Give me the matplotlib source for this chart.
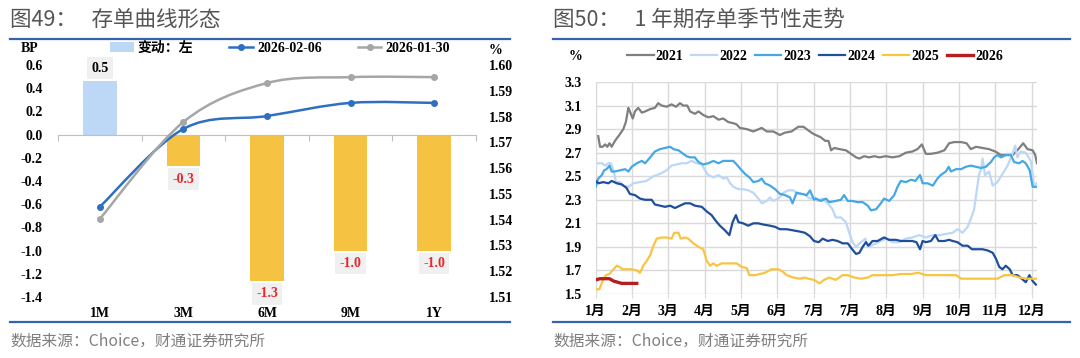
import matplotlib
matplotlib.use("Agg")
import matplotlib.pyplot as plt
import numpy as np
from matplotlib.lines import Line2D
from matplotlib.patches import Patch, PathPatch
from matplotlib.path import Path

# ---- left panel: CD curve ----
TENORS = ["1M", "3M", "6M", "9M", "1Y"]
CHANGE_BP = [0.46, -0.27, -1.26, -1.0, -1.0]
CHANGE_LABELS = ["0.5", "-0.3", "-1.3", "-1.0", "-1.0"]
CURVE_0206 = [1.5450, 1.5752, 1.5802, 1.5853, 1.5853]
CURVE_0130 = [1.5403, 1.5779, 1.5930, 1.5953, 1.5953]

# ---- right panel: 1Y CD seasonality, (month position, rate %) ----
MONTH_LABELS = ["1月", "2月", "3月", "4月", "5月", "6月", "7月", "7月",
                "8月", "9月", "10月", "11月", "12月"]

Y2021 = [(0.07, 2.84), (0.12, 2.75), (0.19, 2.75), (0.26, 2.77), (0.32, 2.75), (0.38, 2.78),
         (0.44, 2.75), (0.53, 2.80), (0.65, 2.85), (0.76, 2.90), (0.83, 2.96), (0.90, 3.08),
         (0.94, 3.05), (1.02, 2.99), (1.08, 3.05), (1.17, 3.08), (1.27, 3.04), (1.36, 3.05),
         (1.50, 3.07), (1.63, 3.08), (1.72, 3.12), (1.82, 3.10), (1.95, 3.09), (2.09, 3.11),
         (2.21, 3.09), (2.32, 3.12), (2.41, 3.10), (2.52, 3.10), (2.60, 3.05), (2.73, 3.03),
         (2.83, 3.05), (2.96, 3.02), (3.10, 3.00), (3.24, 3.01), (3.38, 2.98), (3.51, 2.99),
         (3.65, 2.96), (3.79, 2.95), (3.88, 2.94), (3.97, 2.91), (4.16, 2.90), (4.34, 2.88),
         (4.57, 2.91), (4.71, 2.88), (4.89, 2.88), (5.07, 2.85), (5.21, 2.87), (5.39, 2.88),
         (5.58, 2.92), (5.72, 2.92), (5.85, 2.89), (5.99, 2.86), (6.06, 2.85), (6.20, 2.83),
         (6.32, 2.80), (6.41, 2.80), (6.48, 2.72), (6.57, 2.74), (6.71, 2.73), (6.89, 2.72),
         (7.03, 2.69), (7.17, 2.66), (7.26, 2.65), (7.39, 2.67), (7.53, 2.66), (7.67, 2.67),
         (7.81, 2.66), (7.99, 2.67), (8.17, 2.66), (8.36, 2.67), (8.54, 2.70), (8.72, 2.71),
         (8.86, 2.73), (8.98, 2.77), (9.09, 2.69), (9.23, 2.69), (9.41, 2.70), (9.60, 2.72),
         (9.73, 2.78), (9.87, 2.79), (10.06, 2.79), (10.21, 2.78), (10.33, 2.73), (10.47, 2.75),
         (10.65, 2.74), (10.83, 2.73), (11.00, 2.71), (11.16, 2.68), (11.29, 2.68), (11.48, 2.68),
         (11.61, 2.72), (11.77, 2.78), (11.89, 2.73), (12.03, 2.72), (12.10, 2.68), (12.15, 2.61)]

Y2022 = [(0.05, 2.61), (0.17, 2.61), (0.26, 2.59), (0.35, 2.61), (0.42, 2.61), (0.49, 2.55),
         (0.56, 2.45), (0.67, 2.45), (0.76, 2.42), (0.90, 2.41), (1.04, 2.44), (1.22, 2.45),
         (1.40, 2.46), (1.59, 2.50), (1.77, 2.52), (1.95, 2.55), (2.09, 2.59), (2.23, 2.60),
         (2.37, 2.61), (2.50, 2.61), (2.64, 2.63), (2.78, 2.61), (2.92, 2.60), (3.01, 2.55),
         (3.10, 2.51), (3.24, 2.49), (3.38, 2.51), (3.51, 2.48), (3.61, 2.49), (3.70, 2.44),
         (3.79, 2.41), (3.93, 2.39), (4.06, 2.39), (4.20, 2.38), (4.34, 2.36), (4.48, 2.31),
         (4.57, 2.27), (4.71, 2.29), (4.80, 2.32), (4.89, 2.29), (5.03, 2.31), (5.17, 2.36),
         (5.30, 2.38), (5.44, 2.38), (5.58, 2.35), (5.72, 2.35), (5.90, 2.31), (6.04, 2.32),
         (6.11, 2.29), (6.25, 2.31), (6.39, 2.27), (6.52, 2.22), (6.61, 2.15), (6.75, 2.15),
         (6.89, 2.11), (6.98, 2.02), (7.07, 1.94), (7.17, 1.90), (7.26, 1.93), (7.35, 1.95),
         (7.42, 1.97), (7.49, 1.90), (7.58, 1.91), (7.72, 1.93), (7.85, 1.95), (7.99, 1.97),
         (8.17, 1.94), (8.36, 1.94), (8.54, 1.97), (8.72, 1.98), (8.91, 2.00), (9.09, 1.98),
         (9.28, 2.00), (9.46, 2.00), (9.64, 2.01), (9.83, 2.02), (9.96, 2.05), (10.10, 2.02),
         (10.24, 2.07), (10.33, 2.14), (10.42, 2.22), (10.51, 2.42), (10.56, 2.52), (10.61, 2.56),
         (10.65, 2.65), (10.72, 2.51), (10.83, 2.54), (10.93, 2.42), (11.06, 2.45), (11.20, 2.52),
         (11.34, 2.59), (11.46, 2.68), (11.55, 2.76), (11.61, 2.66), (11.70, 2.71), (11.84, 2.70),
         (11.98, 2.63), (12.07, 2.42), (12.14, 2.44)]

Y2023 = [(0.00, 2.41), (0.07, 2.48), (0.17, 2.51), (0.23, 2.55), (0.30, 2.56), (0.38, 2.59),
         (0.44, 2.54), (0.53, 2.54), (0.67, 2.55), (0.81, 2.56), (0.90, 2.54), (0.99, 2.58),
         (1.13, 2.61), (1.27, 2.63), (1.36, 2.61), (1.50, 2.66), (1.63, 2.71), (1.77, 2.73),
         (1.91, 2.74), (2.05, 2.75), (2.14, 2.73), (2.28, 2.72), (2.41, 2.69), (2.50, 2.67),
         (2.60, 2.66), (2.73, 2.66), (2.83, 2.62), (2.96, 2.60), (3.10, 2.61), (3.24, 2.63),
         (3.38, 2.61), (3.51, 2.63), (3.65, 2.63), (3.79, 2.63), (3.88, 2.60), (4.02, 2.55),
         (4.11, 2.52), (4.23, 2.49), (4.34, 2.45), (4.48, 2.46), (4.57, 2.48), (4.66, 2.44),
         (4.80, 2.42), (4.94, 2.39), (5.07, 2.35), (5.21, 2.34), (5.35, 2.32), (5.42, 2.27),
         (5.53, 2.36), (5.67, 2.35), (5.81, 2.34), (5.90, 2.38), (6.01, 2.30), (6.06, 2.31),
         (6.20, 2.29), (6.34, 2.31), (6.43, 2.28), (6.61, 2.29), (6.75, 2.30), (6.84, 2.34),
         (6.94, 2.29), (7.07, 2.29), (7.21, 2.28), (7.35, 2.28), (7.49, 2.25), (7.58, 2.21),
         (7.72, 2.22), (7.85, 2.27), (7.94, 2.31), (8.08, 2.29), (8.22, 2.34), (8.31, 2.41),
         (8.40, 2.46), (8.54, 2.45), (8.68, 2.47), (8.80, 2.46), (8.93, 2.51), (9.00, 2.44),
         (9.14, 2.44), (9.28, 2.42), (9.41, 2.48), (9.50, 2.51), (9.64, 2.54), (9.72, 2.58),
         (9.78, 2.54), (9.92, 2.56), (10.06, 2.56), (10.19, 2.58), (10.33, 2.59), (10.47, 2.58),
         (10.61, 2.57), (10.74, 2.58), (10.88, 2.62), (10.97, 2.66), (11.06, 2.68), (11.16, 2.66),
         (11.29, 2.68), (11.43, 2.68), (11.52, 2.62), (11.66, 2.61), (11.75, 2.63), (11.84, 2.61),
         (11.95, 2.55), (12.03, 2.41), (12.12, 2.41)]

Y2024 = [(0.00, 2.46), (0.07, 2.44), (0.21, 2.45), (0.35, 2.44), (0.44, 2.46), (0.58, 2.44),
         (0.72, 2.43), (0.85, 2.40), (0.94, 2.35), (1.08, 2.34), (1.22, 2.31), (1.36, 2.30),
         (1.54, 2.30), (1.63, 2.26), (1.77, 2.25), (1.91, 2.24), (2.05, 2.25), (2.18, 2.23),
         (2.32, 2.25), (2.46, 2.27), (2.60, 2.27), (2.73, 2.25), (2.92, 2.24), (3.06, 2.20),
         (3.19, 2.17), (3.31, 2.12), (3.42, 2.08), (3.56, 2.04), (3.68, 2.00), (3.77, 2.11),
         (3.86, 2.17), (3.93, 2.11), (4.06, 2.10), (4.20, 2.08), (4.34, 2.10), (4.48, 2.10),
         (4.61, 2.09), (4.80, 2.08), (4.94, 2.07), (5.07, 2.05), (5.26, 2.05), (5.44, 2.04),
         (5.62, 2.03), (5.76, 2.02), (5.90, 1.99), (6.01, 1.95), (6.14, 1.94), (6.25, 1.97),
         (6.39, 1.95), (6.52, 1.96), (6.66, 1.95), (6.80, 1.93), (6.94, 1.93), (7.06, 1.88),
         (7.17, 1.84), (7.26, 1.85), (7.35, 1.90), (7.44, 1.94), (7.51, 1.91), (7.62, 1.95),
         (7.76, 1.95), (7.94, 1.98), (8.08, 1.96), (8.27, 1.96), (8.40, 1.95), (8.54, 1.95),
         (8.72, 1.95), (8.83, 1.94), (8.93, 1.88), (9.00, 1.95), (9.09, 1.94), (9.23, 1.95),
         (9.35, 2.00), (9.44, 1.95), (9.60, 1.95), (9.73, 1.96), (9.83, 1.95), (9.96, 1.94),
         (10.10, 1.91), (10.24, 1.91), (10.36, 1.88), (10.51, 1.88), (10.65, 1.88), (10.79, 1.87),
         (10.93, 1.85), (11.02, 1.80), (11.11, 1.73), (11.20, 1.71), (11.29, 1.74), (11.40, 1.71),
         (11.48, 1.66), (11.61, 1.66), (11.73, 1.63), (11.84, 1.60), (11.94, 1.66), (12.03, 1.61),
         (12.12, 1.58)]

Y2025 = [(0.00, 1.54), (0.10, 1.54), (0.19, 1.61), (0.28, 1.66), (0.38, 1.67), (0.49, 1.71),
         (0.58, 1.74), (0.65, 1.73), (0.74, 1.71), (0.85, 1.71), (0.99, 1.71), (1.13, 1.70),
         (1.22, 1.68), (1.31, 1.74), (1.40, 1.78), (1.50, 1.83), (1.59, 1.91), (1.68, 1.97),
         (1.82, 1.98), (1.95, 1.98), (2.09, 1.97), (2.16, 2.02), (2.28, 2.02), (2.34, 1.97),
         (2.46, 1.98), (2.55, 1.97), (2.69, 1.93), (2.83, 1.90), (2.96, 1.88), (3.06, 1.78),
         (3.15, 1.74), (3.24, 1.76), (3.33, 1.74), (3.47, 1.76), (3.70, 1.76), (3.88, 1.76),
         (4.02, 1.73), (4.16, 1.72), (4.23, 1.66), (4.39, 1.66), (4.52, 1.67), (4.66, 1.68),
         (4.84, 1.71), (5.03, 1.71), (5.15, 1.69), (5.26, 1.66), (5.44, 1.64), (5.62, 1.63),
         (5.76, 1.64), (5.85, 1.63), (6.01, 1.62), (6.16, 1.59), (6.29, 1.62), (6.43, 1.64),
         (6.61, 1.62), (6.80, 1.66), (6.94, 1.66), (7.12, 1.64), (7.30, 1.63), (7.49, 1.64),
         (7.62, 1.66), (7.90, 1.66), (8.17, 1.66), (8.40, 1.67), (8.68, 1.67), (8.89, 1.68),
         (9.09, 1.66), (9.37, 1.66), (9.64, 1.66), (9.92, 1.66), (10.06, 1.63), (10.28, 1.63),
         (10.56, 1.63), (10.83, 1.63), (11.06, 1.63), (11.25, 1.66), (11.48, 1.66), (11.66, 1.64),
         (11.89, 1.63), (12.12, 1.63)]

Y2026 = [(0.00, 1.62), (0.12, 1.63), (0.26, 1.63), (0.38, 1.63), (0.49, 1.61), (0.60, 1.60),
         (0.72, 1.59), (0.85, 1.59), (0.99, 1.59), (1.13, 1.59)]

YEARS = ["2021", "2022", "2023", "2024", "2025", "2026"]
SERIES = [Y2021, Y2022, Y2023, Y2024, Y2025, Y2026]
COLORS = ["#7f7f7f", "#bdd7f7", "#45a8e6", "#1f4e9c", "#f9c440", "#b5201e"]
WIDTHS = [1.6, 1.6, 1.6, 1.6, 1.6, 2.4]

SERIF = ["Liberation Serif", "Noto Sans CJK SC"]
SANS = ["Noto Sans CJK SC", "DejaVu Sans"]
TITLE_GRAY = "#555555"
RULE_BLUE = "#3563ad"


def smooth_path(xs, ys):
    # Excel-style smoothed line through the points (Catmull-Rom as bezier)
    pts = np.column_stack([xs, ys]).astype(float)
    ext = np.vstack([pts[0], pts, pts[-1]])
    verts, codes = [pts[0]], [Path.MOVETO]
    for i in range(len(pts) - 1):
        p0, p1, p2, p3 = ext[i], ext[i + 1], ext[i + 2], ext[i + 3]
        verts += [p1 + (p2 - p0) / 6, p2 - (p3 - p1) / 6, p2]
        codes += [Path.CURVE4] * 3
    return Path(verts, codes)


def left_panel(fig):
    ax = fig.add_axes([58 / 1080, 1 - 297 / 358, 418 / 1080, 232 / 358])
    x = np.arange(len(TENORS))
    colors = ["#bdd7f7" if v >= 0 else "#f5c242" for v in CHANGE_BP]
    ax.bar(x, CHANGE_BP, width=0.4, color=colors, zorder=2)
    for xi, v, lab in zip(x, CHANGE_BP, CHANGE_LABELS):
        ax.annotate(lab, (xi, v), xytext=(0, 9.5 if v >= 0 else -9.5),
                    textcoords="offset points", ha="center", va="center",
                    fontsize=10, fontweight="bold", family=SERIF,
                    color="black" if v >= 0 else "#e8262b",
                    bbox=dict(boxstyle="square,pad=0.3", fc="#f0f0f0", ec="none"))
    ax.set_xlim(-0.5, len(TENORS) - 0.5)
    ax.set_ylim(-1.4, 0.6)
    yt = [i / 10 for i in range(-14, 7, 2)]
    ax.set_yticks(yt, [f"{v:.1f}" for v in yt])
    for s in ["top", "left", "right"]:
        ax.spines[s].set_visible(False)
    ax.spines["bottom"].set_position(("data", 0))
    ax.spines["bottom"].set_color("#bfbfbf")
    ax.set_xticks(np.arange(-0.5, len(TENORS), 1))
    ax.tick_params(axis="x", length=4, color="#bfbfbf", labelbottom=False)
    ax.tick_params(axis="y", length=0, pad=11, labelsize=10)
    for t in ax.get_yticklabels():
        t.set_fontweight("bold")
        t.set_family(SERIF)
    sec = ax.secondary_xaxis("bottom")
    sec.set_xticks(x, TENORS)
    sec.tick_params(length=0, pad=7, labelsize=10)
    sec.spines["bottom"].set_visible(False)
    for t in sec.get_xticklabels():
        t.set_fontweight("bold")
        t.set_family(SERIF)

    ax2 = ax.twinx()
    ax2.set_ylim(1.51, 1.60)
    rt = [i / 100 for i in range(151, 161)]
    ax2.set_yticks(rt, [f"{v:.2f}" for v in rt])
    for s in ax2.spines.values():
        s.set_visible(False)
    ax2.tick_params(axis="y", length=0, pad=9, labelsize=10)
    for t in ax2.get_yticklabels():
        t.set_fontweight("bold")
        t.set_family(SERIF)
    line_cols = ["#2e6fc2", "#a6a6a6"]
    for vals, c in zip([CURVE_0206, CURVE_0130], line_cols):
        ax2.add_patch(PathPatch(smooth_path(x, vals), fc="none", ec=c, lw=1.8, zorder=3))
        ax2.plot(x, vals, "o", ms=4, color=c, zorder=4)

    handles = [Patch(fc="#bdd7f7", ec="none"),
               Line2D([0], [0], color=line_cols[0], lw=1.8, marker="o", ms=4),
               Line2D([0], [0], color=line_cols[1], lw=1.8, marker="o", ms=4)]
    fig.legend(handles, ["变动：左", "2026-02-06", "2026-01-30"], ncol=3,
               loc="center", bbox_to_anchor=(280 / 1080, 1 - 48 / 358), frameon=False,
               prop=dict(family=SERIF, weight="bold", size=10),
               handlelength=1.7, handleheight=0.7, handletextpad=0.3, columnspacing=2.6)
    fig.text(30 / 1080, 1 - 48 / 358, "BP", ha="center", va="center",
             fontsize=10, fontweight="bold", family=SERIF)
    fig.text(496 / 1080, 1 - 50 / 358, "%", ha="center", va="center",
             fontsize=10, fontweight="bold", family=SERIF)


def right_panel(fig):
    ax = fig.add_axes([595.7 / 1080, 1 - 294 / 358, 441.3 / 1080, 212 / 358])
    for pts, c, lw in zip(SERIES, COLORS, WIDTHS):
        xs = [p[0] for p in pts]
        ys = [p[1] for p in pts]
        ax.plot(xs, ys, color=c, lw=lw, solid_joinstyle="round")
    ax.set_xlim(0, 12.15)
    ax.set_ylim(1.5, 3.3)
    yt = [1.5 + i * 0.2 for i in range(10)]
    ax.set_yticks(yt, [f"{v:.1f}" for v in yt])
    ax.set_xticks(range(len(MONTH_LABELS)), MONTH_LABELS)
    ax.grid(True, color="#d9d9d9", lw=1)
    ax.set_axisbelow(True)
    for s in ax.spines.values():
        s.set_visible(False)
    ax.tick_params(axis="y", length=0, pad=10, labelsize=10)
    ax.tick_params(axis="x", length=3, color="#d9d9d9", pad=5, labelsize=10)
    for t in ax.get_xticklabels() + ax.get_yticklabels():
        t.set_fontweight("bold")
        t.set_family(SERIF)

    handles = [Line2D([0], [0], color=c, lw=lw) for c, lw in zip(COLORS, WIDTHS)]
    fig.legend(handles, YEARS, ncol=6, loc="center",
               bbox_to_anchor=(815 / 1080, 1 - 56 / 358), frameon=False,
               prop=dict(family=SERIF, weight="bold", size=10),
               handlelength=1.9, handletextpad=0.15, columnspacing=0.55)
    fig.text(575 / 1080, 1 - 56 / 358, "%", ha="center", va="center",
             fontsize=10, fontweight="bold", family=SERIF)


def main():
    fig = plt.figure(figsize=(10.8, 3.58), dpi=100)
    left_panel(fig)
    right_panel(fig)

    # titles, rules and source notes
    for x0, x1, title in [(10, 510, "图49：   存单曲线形态"),
                          (553, 1070, "图50：   1 年期存单季节性走势")]:
        fig.text(x0 / 1080, 1 - 20 / 358, title, ha="left", va="center",
                 fontsize=15.5, color=TITLE_GRAY, family=SANS)
        for y in [39, 322]:
            fig.add_artist(Line2D([x0 / 1080, x1 / 1080], [1 - y / 358] * 2,
                                  color=RULE_BLUE, lw=1.6))
        fig.text(x0 / 1080, 1 - 341 / 358, "数据来源：Choice，财通证券研究所",
                 ha="left", va="center", fontsize=11.3, color="#7f7f7f", family=SANS)

    fig.savefig("out.png", dpi=100, facecolor="white")


if __name__ == "__main__":
    main()
